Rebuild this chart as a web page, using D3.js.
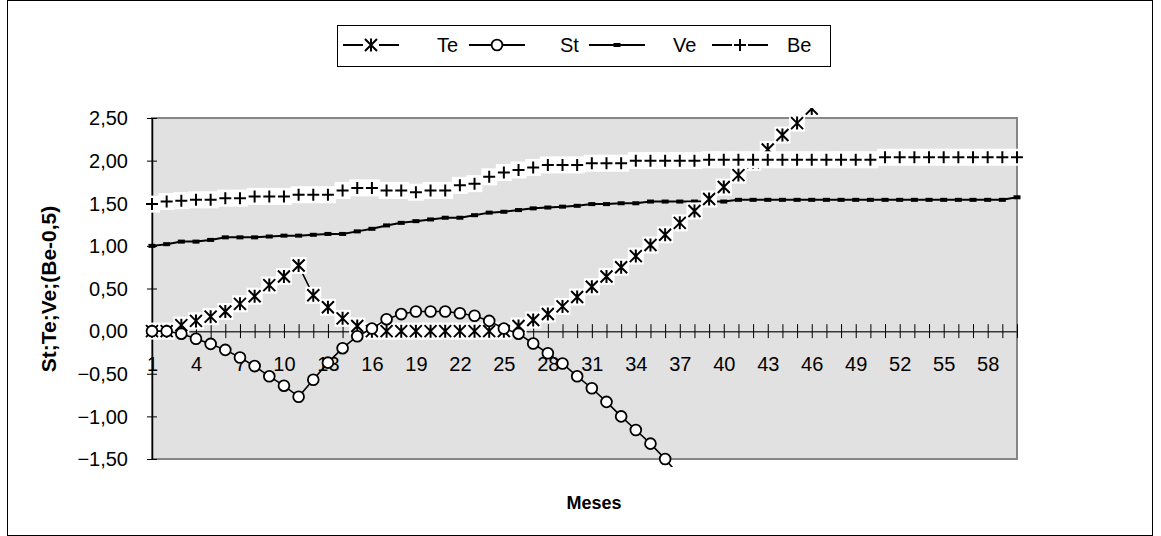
<!DOCTYPE html>
<html>
<head>
<meta charset="utf-8">
<script src="https://cdn.jsdelivr.net/npm/d3@7"></script>
<style>
  body { margin: 0; background: #fff; }
  svg { display: block; }
  text { font-family: "Liberation Sans", Arial, sans-serif; fill: #000; }
</style>
</head>
<body>
<svg id="chart" width="1161" height="536"></svg>
<script>
// Months 1..60 on the category axis
const months = d3.range(1, 61);

// Te series (stops where it leaves the top of the plot)
const te = [0.00, 0.00, 0.07, 0.12, 0.17, 0.23, 0.32, 0.41, 0.54, 0.64,
            0.77, 0.42, 0.28, 0.15, 0.06, 0.00, 0.00, 0.00, 0.00, 0.00,
            0.00, 0.00, 0.00, 0.00, 0.00, 0.06, 0.13, 0.20, 0.29, 0.40,
            0.52, 0.64, 0.75, 0.88, 1.01, 1.13, 1.27, 1.41, 1.55, 1.69,
            1.83, 1.98, 2.13, 2.30, 2.44, 2.61];

// St series (runs out of the bottom of the plot)
const st = [0.00, 0.00, -0.03, -0.09, -0.15, -0.22, -0.31, -0.41, -0.53, -0.64,
            -0.77, -0.57, -0.37, -0.20, -0.06, 0.03, 0.14, 0.20, 0.23, 0.23,
            0.23, 0.21, 0.18, 0.12, 0.03, -0.03, -0.145, -0.26, -0.38, -0.53,
            -0.67, -0.83, -1.00, -1.16, -1.32, -1.50, -1.70];

// Ve series
const ve = [1.00, 1.02, 1.05, 1.05, 1.07, 1.10, 1.10, 1.10, 1.11, 1.12,
            1.12, 1.13, 1.14, 1.14, 1.17, 1.20, 1.24, 1.27, 1.29, 1.31,
            1.33, 1.33, 1.36, 1.39, 1.40, 1.42, 1.44, 1.45, 1.46, 1.47,
            1.49, 1.49, 1.50, 1.50, 1.52, 1.52, 1.52, 1.52, 1.52, 1.52,
            1.54, 1.54, 1.54, 1.54, 1.54, 1.54, 1.54, 1.54, 1.54, 1.54,
            1.54, 1.54, 1.54, 1.54, 1.54, 1.54, 1.54, 1.54, 1.54, 1.57];

// Be series (plotted shifted down by 0.5)
const be = [1.99, 2.02, 2.03, 2.04, 2.04, 2.06, 2.06, 2.08, 2.08, 2.08,
            2.10, 2.10, 2.10, 2.15, 2.18, 2.18, 2.15, 2.15, 2.13, 2.15,
            2.15, 2.21, 2.23, 2.31, 2.36, 2.39, 2.42, 2.45, 2.45, 2.45,
            2.47, 2.47, 2.47, 2.50, 2.50, 2.50, 2.50, 2.50, 2.51, 2.51,
            2.51, 2.51, 2.51, 2.51, 2.51, 2.51, 2.51, 2.51, 2.51, 2.51,
            2.54, 2.54, 2.54, 2.54, 2.54, 2.54, 2.54, 2.54, 2.54, 2.54];
const beShift = 0.5;

const yTicks = [-1.5, -1.0, -0.5, 0, 0.5, 1.0, 1.5, 2.0, 2.5];
const xTickLabels = [1, 4, 7, 10, 13, 16, 19, 22, 25, 28, 31, 34, 37, 40, 43, 46, 49, 52, 55, 58];
const seriesNames = ["Te", "St", "Ve", "Be"];
const xTitle = "Meses";
const yTitle = "St;Te;Ve;(Be-0,5)";

// ---- layout ----
const plot = { left: 152, right: 1017, top: 118, bottom: 459 };
const svg = d3.select("#chart");

const x = d3.scalePoint().domain(months).range([plot.left, plot.right]).padding(0);
const y = d3.scaleLinear().domain([-1.5, 2.5]).range([plot.bottom, plot.top]);
const fmt = v => d3.format(".2f")(v).replace(".", ",");

// outer frame
svg.append("rect").attr("x", 7.5).attr("y", 0.5).attr("width", 1145).attr("height", 535)
  .attr("fill", "#fff").attr("stroke", "#000").attr("stroke-width", 1);

// plot background
svg.append("rect").attr("x", plot.left).attr("y", plot.top)
  .attr("width", plot.right - plot.left).attr("height", plot.bottom - plot.top)
  .attr("fill", "#e1e1e1").attr("stroke", "#868686").attr("stroke-width", 2);

// y axis
const yAxis = d3.axisLeft(y).tickValues(yTicks).tickFormat(fmt).tickSizeInner(5).tickSizeOuter(0).tickPadding(20);
const gy = svg.append("g").attr("transform", `translate(${plot.left},0)`).call(yAxis);
gy.select(".domain").attr("stroke", "#000").attr("stroke-width", 1.5);
gy.selectAll(".tick line").attr("x2", -5).attr("x1", 5).attr("stroke", "#000");
gy.selectAll(".tick text").attr("font-size", 20).attr("dy", "0.34em").attr("x", -24);

// x axis crossing at zero
const xAxis = d3.axisBottom(x).tickValues(months).tickSizeOuter(0).tickSizeInner(7)
  .tickFormat(d => xTickLabels.includes(d) ? d : "");
const gx = svg.append("g").attr("transform", `translate(0,${y(0)})`).call(xAxis);
gx.select(".domain").attr("stroke", "#3a3a3a").attr("stroke-width", 1.5);
gx.selectAll(".tick line").attr("y1", -7).attr("y2", 7).attr("stroke", "#000");
gx.selectAll(".tick text").attr("font-size", 20).attr("y", 40).attr("dy", 0);

// titles
svg.append("text").attr("x", 594).attr("y", 509).attr("text-anchor", "middle")
  .attr("font-size", 18).attr("font-weight", "bold").text(xTitle);
svg.append("text").attr("transform", "translate(56,289) rotate(-90)")
  .attr("text-anchor", "middle").attr("font-size", 21).attr("font-weight", "bold").text(yTitle);

// clip region for the series
svg.append("clipPath").attr("id", "clip").append("rect")
  .attr("x", 0).attr("y", 108).attr("width", 1161).attr("height", 359);

// marker shapes
const starPath = "M0,-6.5V6.5M-6,-6L6,6M-6,6L6,-6";
const plusPath = "M-6,0H6M0,-6V6";
const BOX_W = 16, BOX_H = 17;

function boxedMarker(g, cx, cy, path) {
  g.append("rect").attr("x", cx - BOX_W / 2).attr("y", cy - BOX_H / 2)
    .attr("width", BOX_W).attr("height", BOX_H).attr("fill", "#fff");
  g.append("path").attr("d", path).attr("transform", `translate(${cx},${cy})`)
    .attr("stroke", "#000").attr("stroke-width", 2).attr("fill", "none");
}
function circleMarker(g, cx, cy) {
  g.append("circle").attr("cx", cx).attr("cy", cy).attr("r", 5.4)
    .attr("fill", "#fff").attr("stroke", "#000").attr("stroke-width", 1.8);
}
function dashMarker(g, cx, cy) {
  g.append("rect").attr("x", cx - 3.5).attr("y", cy - 2).attr("width", 7).attr("height", 4).attr("fill", "#000");
}

const series = svg.append("g").attr("clip-path", "url(#clip)");
const line = d3.line().x((d, i) => x(months[i])).y(d => y(d));

// Ve
const gVe = series.append("g");
gVe.append("path").attr("d", line(ve)).attr("fill", "none").attr("stroke", "#000").attr("stroke-width", 2);
ve.forEach((v, i) => dashMarker(gVe, x(months[i]), y(v)));

// Te
const gTe = series.append("g");
gTe.append("path").attr("d", line(te)).attr("fill", "none").attr("stroke", "#000").attr("stroke-width", 1.6);
te.forEach((v, i) => boxedMarker(gTe, x(months[i]), y(v), starPath));

// St
const gSt = series.append("g");
gSt.append("path").attr("d", line(st)).attr("fill", "none").attr("stroke", "#000").attr("stroke-width", 1.6);
st.forEach((v, i) => circleMarker(gSt, x(months[i]), y(v)));

// Be - 0.5
const beVals = be.map(v => v - beShift);
const gBe = series.append("g");
gBe.append("path").attr("d", line(beVals)).attr("fill", "none").attr("stroke", "#000").attr("stroke-width", 1.6);
beVals.forEach((v, i) => boxedMarker(gBe, x(months[i]), y(v), plusPath));

// legend
const legend = svg.append("g");
legend.append("rect").attr("x", 337.5).attr("y", 25.5).attr("width", 493).attr("height", 41)
  .attr("fill", "#fff").attr("stroke", "#000").attr("stroke-width", 1);
const legendLineX = [343, 469, 589, 712];
const legendTextX = [437, 560, 673, 787];
const legendY = 45;
seriesNames.forEach((name, i) => {
  const g = legend.append("g");
  const x0 = legendLineX[i], cx = x0 + 28;
  g.append("line").attr("x1", x0).attr("x2", x0 + 56).attr("y1", legendY).attr("y2", legendY)
    .attr("stroke", "#000").attr("stroke-width", 2);
  if (name === "Te") boxedMarker(g, cx, legendY, starPath);
  if (name === "St") circleMarker(g, cx, legendY);
  if (name === "Ve") dashMarker(g, cx, legendY);
  if (name === "Be") boxedMarker(g, cx, legendY, plusPath);
  g.append("text").attr("x", legendTextX[i]).attr("y", 52).attr("font-size", 20).text(name);
});
</script>
</body>
</html>
